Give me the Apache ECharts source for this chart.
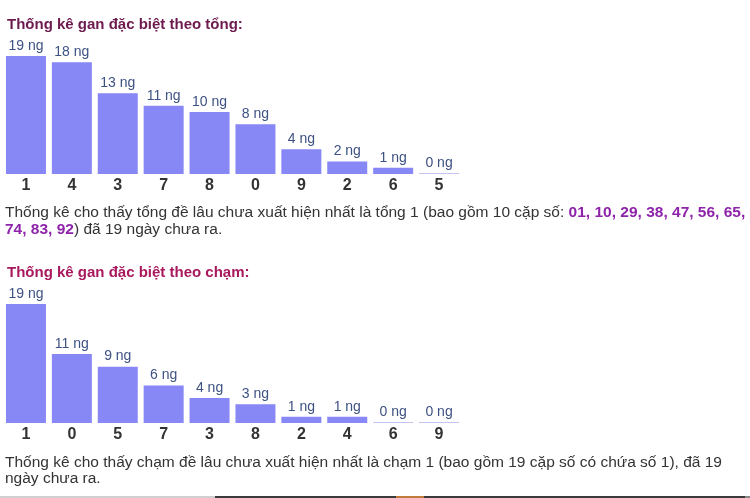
<!DOCTYPE html>
<html>
<head>
<meta charset="utf-8">
<script src="https://cdn.jsdelivr.net/npm/echarts@6/dist/echarts.min.js"></script>
<style>
html,body{margin:0;padding:0;background:#fff;}
#chart{width:750px;height:498px;}
</style>
</head>
<body>
<div id="chart"></div>
<script>
// Data
var tongCategories = ['1', '4', '3', '7', '8', '0', '9', '2', '6', '5'];
var tongValues = [19, 18, 13, 11, 10, 8, 4, 2, 1, 0];
var chamCategories = ['1', '0', '5', '7', '3', '8', '2', '4', '6', '9'];
var chamValues = [19, 11, 9, 6, 4, 3, 1, 1, 0, 0];
var title1 = 'Thống kê gan đặc biệt theo tổng:';
var title2 = 'Thống kê gan đặc biệt theo chạm:';
var para1Start = 'Thống kê cho thấy tổng đề lâu chưa xuất hiện nhất là tổng 1 (bao gồm 10 cặp số: ';
var para1Pairs1 = '01, 10, 29, 38, 47, 56, 65,';
var para1Pairs2 = '74, 83, 92';
var para1End = ') đã 19 ngày chưa ra.';
var para2Line1 = 'Thống kê cho thấy chạm đề lâu chưa xuất hiện nhất là chạm 1 (bao gồm 19 cặp số có chứa số 1), đã 19';
var para2Line2 = 'ngày chưa ra.';
var unit = ' ng';

var FONT = 'Arial, "Liberation Sans", sans-serif';
var BAR = '#8787f5';
var BAR0 = '#c4c4f2';

function barSeries(values, idx) {
  return {
    type: 'bar',
    xAxisIndex: idx,
    yAxisIndex: idx,
    data: values,
    barWidth: 40,
    barMinHeight: 1,
    itemStyle: {
      color: function (p) { return p.value === 0 ? BAR0 : BAR; }
    },
    label: {
      show: true,
      position: 'top',
      distance: 3,
      color: '#3e5183',
      fontSize: 14,
      fontFamily: FONT,
      formatter: function (p) { return p.value + unit; }
    },
    silent: true,
    animation: false
  };
}

function xAxis(cats, idx) {
  return {
    type: 'category',
    gridIndex: idx,
    data: cats,
    axisLine: { show: false },
    axisTick: { show: false },
    axisLabel: {
      margin: 4,
      color: '#333',
      fontSize: 16,
      fontWeight: 'bold',
      fontFamily: FONT
    }
  };
}

function yAxis(idx) {
  return {
    type: 'value',
    gridIndex: idx,
    min: 0,
    max: 19,
    show: false,
    splitLine: { show: false }
  };
}

var chart = echarts.init(document.getElementById('chart'), null, { renderer: 'canvas' });
chart.setOption({
  backgroundColor: '#ffffff',
  animation: false,
  title: [
    {
      text: title1, left: 2, top: 12,
      textStyle: { color: '#6d1a4f', fontSize: 15, fontWeight: 'bold', fontFamily: FONT }
    },
    {
      text: title2, left: 2, top: 260,
      textStyle: { color: '#a8195e', fontSize: 15, fontWeight: 'bold', fontFamily: FONT }
    }
  ],
  grid: [
    { left: 3, width: 459, top: 56, height: 118 },
    { left: 3, width: 459, top: 304, height: 119 }
  ],
  xAxis: [xAxis(tongCategories, 0), xAxis(chamCategories, 1)],
  yAxis: [yAxis(0), yAxis(1)],
  series: [barSeries(tongValues, 0), barSeries(chamValues, 1)],
  graphic: [
    {
      type: 'text', left: 5, top: 205, silent: true,
      style: {
        text: '{n|' + para1Start + '}{b|' + para1Pairs1 + '}\n{b|' + para1Pairs2 + '}{n|' + para1End + '}',
        rich: {
          n: { fontSize: 15.5, fontFamily: FONT, fill: '#333', lineHeight: 17 },
          b: { fontSize: 15.5, fontFamily: FONT, fill: '#8e24aa', fontWeight: 'bold', lineHeight: 17 }
        }
      }
    },
    {
      type: 'text', left: 5, top: 455, silent: true,
      style: {
        text: para2Line1 + '\n' + para2Line2,
        fontSize: 15.5, fontFamily: FONT, fill: '#333', lineHeight: 16
      }
    },
    { type: 'rect', silent: true, shape: { x: 0, y: 496, width: 215, height: 2 }, style: { fill: '#d0d0d0' } },
    { type: 'rect', silent: true, shape: { x: 215, y: 496, width: 181, height: 2 }, style: { fill: '#3a3a3a' } },
    { type: 'rect', silent: true, shape: { x: 396, y: 496, width: 28, height: 2 }, style: { fill: '#c07a3c' } },
    { type: 'rect', silent: true, shape: { x: 424, y: 496, width: 321, height: 2 }, style: { fill: '#3a3a3a' } },
    { type: 'rect', silent: true, shape: { x: 745, y: 496, width: 5, height: 2 }, style: { fill: '#888' } }
  ]
});
</script>
</body>
</html>
